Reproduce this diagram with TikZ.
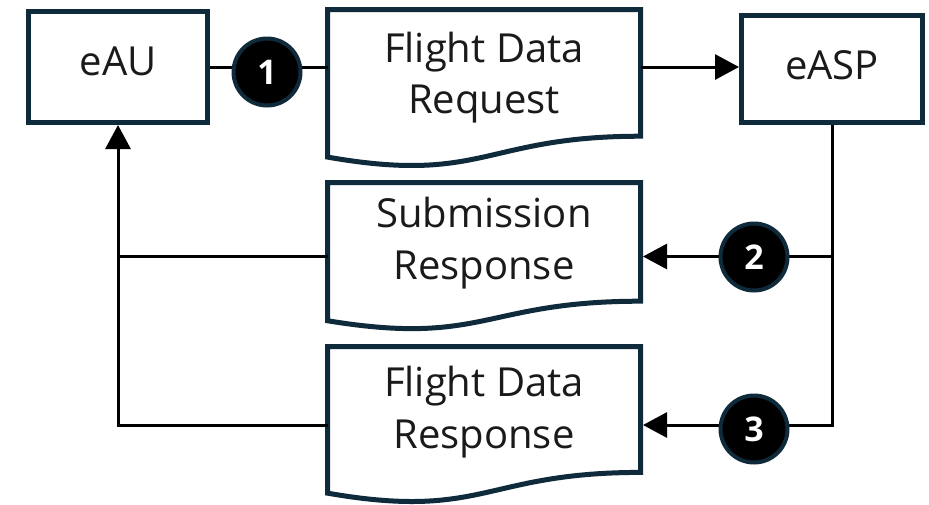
\documentclass[tikz,border=0pt]{standalone}
\usepackage{fontspec}
\setmainfont{Open Sans}
\usetikzlibrary{arrows.meta,calc}
\definecolor{navy}{HTML}{0E2A3B}
\definecolor{ink}{HTML}{1A1A1A}

\tikzset{
  actor/.style={draw=navy, line width=5pt, fill=white, inner sep=0pt,
    text=ink, font=\fontsize{40}{44}\selectfont},
  docshape/.style={inner sep=0pt, outer sep=0pt, minimum width=313pt},
  docline/.style={draw=navy, line width=5pt, fill=white, line join=miter},
  doctext/.style={align=center, inner sep=0pt, text=ink,
    font=\fontsize{40}{51.5}\selectfont},
  stepnum/.style={circle, fill=black, draw=navy, line width=4pt,
    minimum size=67pt, inner sep=0pt, text=white,
    font=\bfseries\fontsize{34}{40}\selectfont},
  conn/.style={draw=black, line width=3pt},
  tip/.style={-{Triangle[length=24pt,width=25pt]}},
}

% flowchart "document" outline on an empty node
\newcommand\docoutline[1]{%
  \path[docline] (#1.north west) -- (#1.north east)
    -- ($(#1.north east)!0.802!(#1.south east)$)
    .. controls ($(#1.north)!0.802!(#1.south)$) and ($(#1.north)!1.1075!(#1.south)$)
    .. ($(#1.north west)!0.934!(#1.south west)$) -- cycle;}

\begin{document}
\begin{tikzpicture}[x=1pt,y=-1pt]
  \useasboundingbox[fill=white] (0,0) rectangle (929,504);

  % documents
  \node[docshape, minimum height=158pt] (req) at (484,88.5) {};
  \node[docshape, minimum height=148pt] (sub) at (484,256.5) {};
  \node[docshape, minimum height=157pt] (fdr) at (484,425) {};
  \docoutline{req}
  \docoutline{sub}
  \docoutline{fdr}
  \node[doctext] (reqtxt) at (484,77.5) {Flight Data\\Request};
  \node[doctext] (subtxt) at (484,243) {Submission\\Response};
  \node[doctext] (fdrtxt) at (484,412) {Flight Data\\Response};

  % actors
  \node[actor, minimum width=179pt, minimum height=111pt, text depth=12pt]
    (eAU) at (118,67) {eAU};
  \node[actor, minimum width=181pt, minimum height=107pt, text depth=7pt]
    (eASP) at (832,69) {eASP};

  % message flow
  \draw[conn] (eAU.east) -- (eAU.east -| req.west);
  \draw[conn, tip] (eAU.east -| req.east) -- (eAU.east -| eASP.west);
  \draw[conn, tip, shorten >=2.5pt] (eASP.south) |- (fdr.east);
  \draw[conn, tip, shorten >=2.5pt] (eASP.south |- sub.east) -- (sub.east);
  \draw[conn, tip] (fdr.west) -| (eAU.south);
  \draw[conn] (sub.west) -- (sub.west -| eAU.south);

  % step markers
  \node[stepnum] (s1) at (267,72) {1};
  \node[stepnum] (s2) at (754,257) {2};
  \node[stepnum] (s3) at (754,429) {3};
\end{tikzpicture}
\end{document}
